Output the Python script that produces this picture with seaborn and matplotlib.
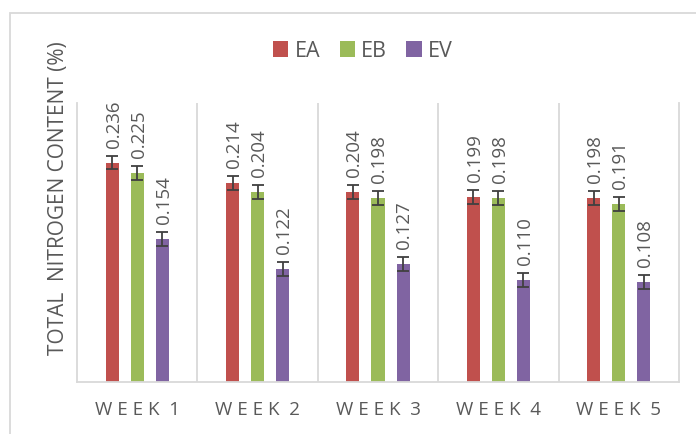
import numpy as np
import pandas as pd
import seaborn as sns
import matplotlib.pyplot as plt
from matplotlib.patches import Rectangle

# values
weeks = ["WEEK 1", "WEEK 2", "WEEK 3", "WEEK 4", "WEEK 5"]
week_labels = ["W E E K  1", "W E E K  2", "W E E K  3", "W E E K  4", "W E E K  5"]
series = ["EA", "EB", "EV"]
ea_values = [0.236, 0.214, 0.204, 0.199, 0.198]
eb_values = [0.225, 0.204, 0.198, 0.198, 0.191]
ev_values = [0.154, 0.122, 0.127, 0.110, 0.108]
ea_err = [0.0075, 0.0075, 0.0075, 0.0075, 0.0075]
eb_err = [0.0075, 0.0075, 0.0075, 0.0075, 0.0075]
ev_err = [0.0075, 0.0075, 0.0075, 0.0075, 0.0075]
colors = ["#C0504D", "#9BBB59", "#8064A2"]

values = [ea_values, eb_values, ev_values]
errors = [ea_err, eb_err, ev_err]

df = pd.DataFrame({
    "Week": weeks * 3,
    "Series": [s for s in series for _ in weeks],
    "Value": ea_values + eb_values + ev_values,
})

sns.set_style("white")
plt.rcParams["font.family"] = ["Open Sans", "DejaVu Sans"]
text_color = "#595959"
grid_color = "#D9D9D9"

fig = plt.figure(figsize=(6.96, 4.35), dpi=100)
ax = fig.add_axes([77 / 696, 52 / 435, 602 / 696, 279 / 435])

sns.barplot(
    data=df, x="Week", y="Value", hue="Series", order=weeks, hue_order=series,
    palette=colors, saturation=1, errorbar=None, width=0.625, gap=0.48,
    linewidth=0, legend=False, ax=ax,
)

# error bars and rotated value labels on top of each bar
bar_containers = list(ax.containers)
for i, cont in enumerate(bar_containers):
    xs = [p.get_x() + p.get_width() / 2 for p in cont.patches]
    ax.errorbar(xs, values[i], yerr=errors[i], fmt="none", ecolor="#404040",
                elinewidth=1.3, capsize=4, capthick=1.3, zorder=5)
    for x, v, e in zip(xs, values[i], errors[i]):
        ax.annotate(f"{v:.3f}", (x, v + e), xytext=(1, 6.5), textcoords="offset points",
                    rotation=90, ha="center", va="bottom", fontsize=13.5, color=text_color)

ax.set_xlim(-0.5, 4.5)
ax.set_ylim(0, 0.3)
ax.set_yticks([])
ax.set_xlabel("")
ax.set_ylabel("")
ax.set_xticks(range(len(weeks)))
ax.set_xticklabels(week_labels, fontsize=13.5, color=text_color)
ax.tick_params(axis="x", length=0, pad=13)

# category separators
ax.set_xticks(np.arange(0.5, 4.5, 1), minor=True)
ax.tick_params(axis="x", which="minor", length=0)
ax.grid(which="minor", axis="x", color=grid_color, linewidth=1.3)
ax.grid(which="major", visible=False)
ax.set_axisbelow(True)
for side in ["left", "right", "bottom"]:
    ax.spines[side].set_color(grid_color)
    ax.spines[side].set_linewidth(1.3)
ax.spines["top"].set_visible(False)

ax.legend(bar_containers, series, loc="center", bbox_to_anchor=(363 / 696, 1 - 52 / 435),
          bbox_transform=fig.transFigure, ncol=3, frameon=False, fontsize=15.5,
          handlelength=0.7, handleheight=0.7, handletextpad=0.3, columnspacing=0.9,
          labelcolor=text_color)

fig.text(59 / 696, 1 - 198 / 435, "TOTAL  NITROGEN CONTENT (%)", rotation=90,
         ha="center", va="center", fontsize=15, color=text_color)

# chart area border (only top and left edges fall inside the image)
fig.add_artist(Rectangle((10 / 696, -0.1), 1.2, 1 - 14 / 435 + 0.1, transform=fig.transFigure,
                         fill=False, edgecolor=grid_color, linewidth=1.3))

fig.savefig("out.png", dpi=100)
